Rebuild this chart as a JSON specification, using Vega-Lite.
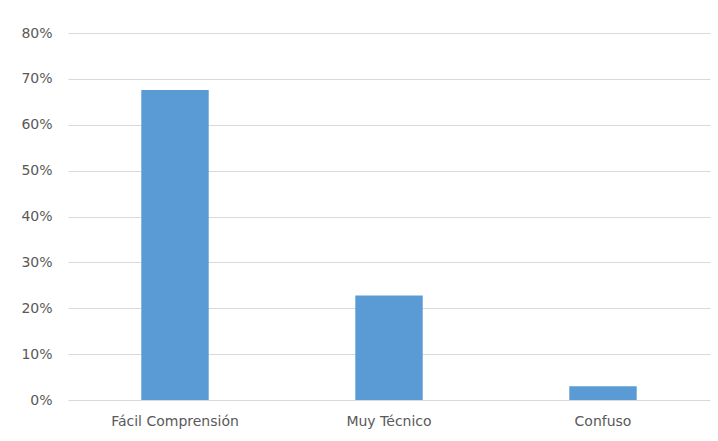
{
  "$schema": "https://vega.github.io/schema/vega-lite/v6.json",
  "width": 642,
  "height": 367,
  "autosize": "none",
  "padding": {"left": 68, "top": 33, "right": 8, "bottom": 41},
  "background": "white",
  "data": {"values": [
    {"categoria": "Fácil Comprensión", "valor": 0.676},
    {"categoria": "Muy Técnico", "valor": 0.228},
    {"categoria": "Confuso", "valor": 0.03}
  ]},
  "mark": {"type": "bar", "color": "#5B9BD5"},
  "encoding": {
    "x": {
      "field": "categoria", "type": "nominal", "sort": null,
      "scale": {"paddingInner": 0.685, "paddingOuter": 0.3425},
      "axis": {"title": null, "labelAngle": 0, "domain": false, "ticks": false, "labelPadding": 14,
               "labelColor": "#595959", "labelFont": "DejaVu Sans", "labelFontSize": 14}
    },
    "y": {
      "field": "valor", "type": "quantitative",
      "scale": {"domain": [0, 0.8], "nice": false},
      "axis": {"format": ".0%", "values": [0, 0.1, 0.2, 0.3, 0.4, 0.5, 0.6, 0.7, 0.8], "title": null,
               "domain": false, "ticks": false, "gridColor": "#D9D9D9", "gridWidth": 1, "labelPadding": 16,
               "labelColor": "#595959", "labelFont": "DejaVu Sans", "labelFontSize": 14}
    }
  },
  "config": {"view": {"stroke": null}}
}
